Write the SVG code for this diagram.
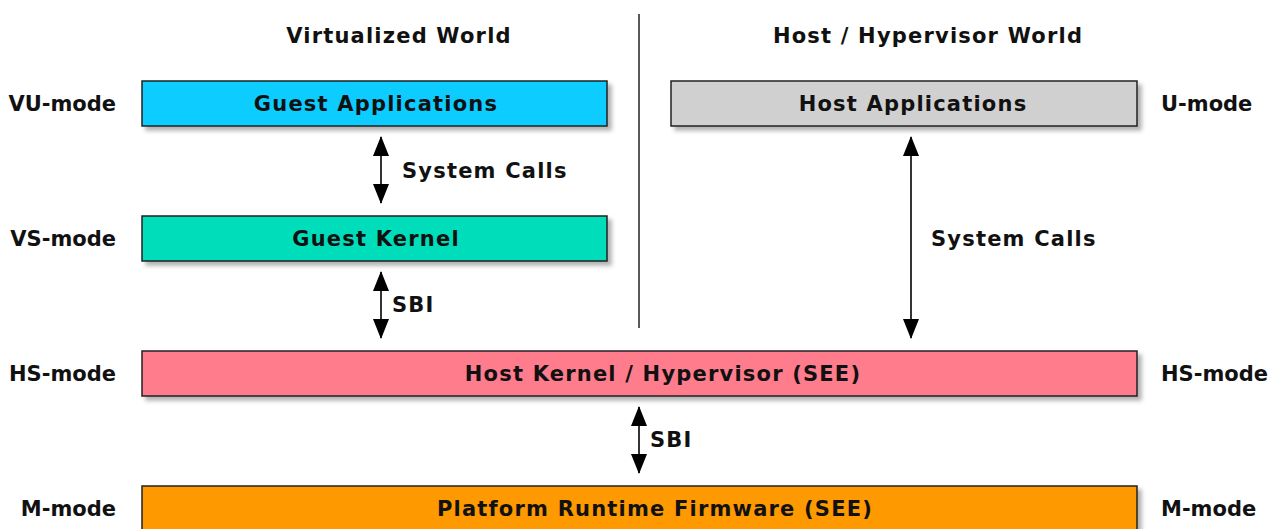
<svg xmlns="http://www.w3.org/2000/svg" width="1283" height="529" viewBox="0 0 1283 529">
<defs>
<filter id="sh" x="-5%" y="-30%" width="115%" height="180%">
<feDropShadow dx="4" dy="4" stdDeviation="2" flood-color="#000" flood-opacity="0.3"/>
</filter>
<marker id="ah" viewBox="0 0 20 16" refX="19" refY="8" markerWidth="20" markerHeight="16" markerUnits="userSpaceOnUse" orient="auto-start-reverse">
<path d="M0,0 L20,8 L0,16 Z" fill="#000"/>
</marker>
<style>
text{font-family:"DejaVu Sans",Verdana,sans-serif;font-weight:bold;font-size:21px;letter-spacing:1.2px;fill:#111}
.m{letter-spacing:0px}
.box{stroke:#222;stroke-width:1.5;filter:url(#sh)}
.c{text-anchor:middle}
.r{text-anchor:end}
.conn{stroke:#000;stroke-width:1.6;fill:none;marker-start:url(#ah);marker-end:url(#ah)}
</style>
</defs>
<rect width="1283" height="529" fill="#fff"/>
<g id="titles">
<text class="c" x="399" y="43">Virtualized World</text>
<text class="c" x="928" y="43">Host / Hypervisor World</text>
<line x1="639" y1="14" x2="639" y2="328" stroke="#222" stroke-width="1.5"/>
</g>
<g id="modes">
<text class="m r" x="116" y="111">VU-mode</text>
<text class="m r" x="116" y="246">VS-mode</text>
<text class="m r" x="116" y="381">HS-mode</text>
<text class="m r" x="116" y="516">M-mode</text>
<text class="m" x="1161" y="111">U-mode</text>
<text class="m" x="1161" y="381">HS-mode</text>
<text class="m" x="1161" y="516">M-mode</text>
</g>
<g id="guest-apps">
<rect class="box" x="142" y="81" width="465" height="45" fill="#11ccff"/>
<text class="c" x="376" y="111">Guest Applications</text>
</g>
<g id="host-apps">
<rect class="box" x="671" y="81" width="466" height="45" fill="#d0d0d0"/>
<text class="c" x="913" y="111">Host Applications</text>
</g>
<g id="guest-kernel">
<rect class="box" x="142" y="216" width="465" height="45" fill="#00ddbb"/>
<text class="c" x="376" y="246">Guest Kernel</text>
</g>
<g id="host-kernel">
<rect class="box" x="142" y="351" width="995" height="45" fill="#ff7b8d"/>
<text class="c" x="663" y="381">Host Kernel / Hypervisor (SEE)</text>
</g>
<g id="firmware">
<rect class="box" x="142" y="486" width="995" height="48" fill="#ff9900"/>
<text class="c" x="655" y="516">Platform Runtime Firmware (SEE)</text>
</g>
<g id="connectors">
<line class="conn" x1="381" y1="137" x2="381" y2="203"/>
<line class="conn" x1="381" y1="272" x2="381" y2="338"/>
<line class="conn" x1="911" y1="137" x2="911" y2="338"/>
<line class="conn" x1="639" y1="407" x2="639" y2="473"/>
<text x="402" y="178">System Calls</text>
<text x="392" y="312">SBI</text>
<text x="931" y="246">System Calls</text>
<text x="650" y="447">SBI</text>
</g>
</svg>
